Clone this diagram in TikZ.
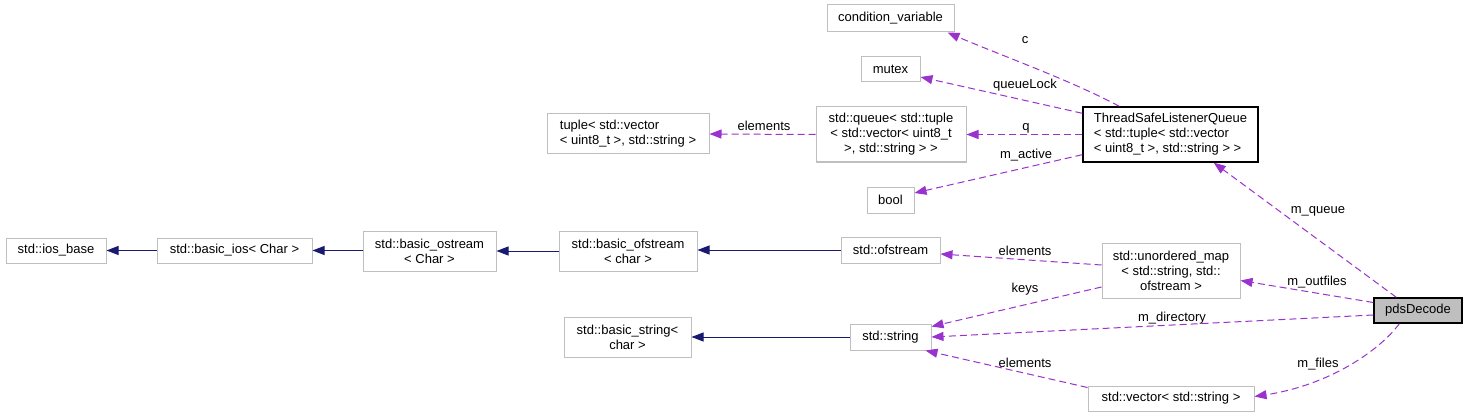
\documentclass[tikz,border=0pt]{standalone}
\usepackage{fontspec}
\setmainfont{Liberation Sans}
\usetikzlibrary{arrows.meta,calc}
\definecolor{edgepurple}{HTML}{9A32CD}
\definecolor{edgenavy}{HTML}{191970}
\definecolor{boxgray}{HTML}{BFBFBF}
\tikzset{
  cls/.style={draw=boxgray, line width=1pt, fill=white, inner sep=0pt, align=center,
    font=\fontsize{13}{15}\selectfont},
  clsmain/.style={cls, draw=black, line width=1.4pt},
  dep/.style={draw=edgepurple, line width=1pt, dash pattern=on 7pt off 4pt,
    -{Triangle[length=12pt,width=9pt]}},
  inh/.style={draw=edgenavy, line width=1pt, -{Triangle[length=12pt,width=9pt]}},
  lbl/.style={anchor=base, inner sep=0pt, font=\fontsize{13}{15}\selectfont}
}
\begin{document}
\begin{tikzpicture}[x=1pt,y=-1pt]
\useasboundingbox[fill=white] (0,0) rectangle (1467,417);
% nodes
\node[cls, minimum width=127pt, minimum height=27pt] (cv) at (890.5,18.5) {condition\_variable};
\node[cls, minimum width=59pt, minimum height=25pt] (mutex) at (890.5,69.5) {mutex};
\node[cls, minimum width=150pt, minimum height=55pt] (queue) at (891,134.5) {std::queue< std::tuple\\< std::vector< uint8\_t\\ >, std::string > >};
\node[cls, minimum width=47pt, minimum height=26pt] (bool) at (890.5,200) {bool};
\node[clsmain, minimum width=175pt, minimum height=55pt, align=left] (tslq) at (1170.5,134.5) {ThreadSafeListenerQueue\\< std::tuple< std::vector\\< uint8\_t >, std::string > >};
\node[cls, minimum width=162pt, minimum height=40pt, align=left] (tuple) at (628,134) {tuple< std::vector\\< uint8\_t >, std::string >};
\node[cls, minimum width=100pt, minimum height=25pt] (iosb) at (56,250.5) {std::ios\_base};
\node[cls, minimum width=155pt, minimum height=25pt] (bios) at (234.5,250.5) {std::basic\_ios< Char >};
\node[cls, minimum width=133pt, minimum height=40pt] (bostream) at (429.5,251) {std::basic\_ostream\\< Char >};
\node[cls, minimum width=138pt, minimum height=40pt] (bofs) at (628,251) {std::basic\_ofstream\\< char >};
\node[cls, minimum width=99pt, minimum height=26pt] (ofs) at (890.5,250) {std::ofstream};
\node[cls, minimum width=138pt, minimum height=55pt] (umap) at (1171,270.5) {std::unordered\_map\\< std::string, std::\\ofstream >};
\node[cls, draw=black, fill=boxgray, line width=1.4pt, minimum width=88pt, minimum height=25pt] (pds) at (1418,310.5) {pdsDecode};
\node[cls, minimum width=127pt, minimum height=40pt] (bstr) at (627.5,337) {std::basic\_string<\\char >};
\node[cls, minimum width=81pt, minimum height=26pt] (str) at (890.5,337) {std::string};
\node[cls, minimum width=166pt, minimum height=25pt] (vec) at (1171,398.5) {std::vector< std::string >};
% inheritance edges
\draw[inh] (bios.west) -- (iosb.east);
\draw[inh] (bostream.west |- bios.east) -- (bios.east);
\draw[inh] (bofs.west) -- (bostream.east);
\draw[inh] (ofs.west) -- (ofs.west -| bofs.east);
\draw[inh] (str.west) -- (bstr.east);
% usage edges
\draw[dep] ($(tslq.north west)+(37,0)$) .. controls (1070,80) and (1000,55) .. ($(cv.south east)+(-7,0)$);
\draw[dep] ($(tslq.north west)+(0,7)$) -- ($(mutex.east)+(0,7.5)$);
\draw[dep] (tslq.west) -- (queue.east);
\draw[dep] ($(tslq.south west)+(0,-8)$) -- ($(bool.east)+(0,-7)$);
\draw[dep] (queue.west) -- (tuple.east);
\draw[dep] ($(pds.north west)+(23,0)$) -- ($(tslq.south east)+(-45,0)$);
\draw[dep] ($(pds.west)+(0,-8)$) -- ($(umap.east)+(0,10)$);
\draw[dep] ($(pds.west)+(0,4.5)$) -- (str.east);
\draw[dep] ($(pds.south west)+(26,0)$) .. controls (1380,350) and (1330,385) .. ($(vec.east)+(0,-2)$);
\draw[dep] ($(umap.west)+(0,-5.5)$) -- ($(ofs.east)+(0,4)$);
\draw[dep] ($(umap.west)+(0,16.5)$) -- ($(str.north east)+(0,3)$);
\draw[dep] ($(vec.north west)+(0,2)$) -- ($(str.south east)+(-6,0)$);
% edge labels
\node[lbl] (lc) at (1025,44) {c};
\node[lbl] (lqlock) at (1025,89) {queueLock};
\node[lbl] (lq) at (1026,131) {q};
\node[lbl] (lactive) at (1026,158) {m\_active};
\node[lbl] (lel1) at (764,131) {elements};
\node[lbl] (lmq) at (1318,213.5) {m\_queue};
\node[lbl] (lel2) at (1025,255.5) {elements};
\node[lbl] (lout) at (1317,285) {m\_outfiles};
\node[lbl] (lkeys) at (1025,292) {keys};
\node[lbl] (ldir) at (1172,321) {m\_directory};
\node[lbl] (lel3) at (1025,367) {elements};
\node[lbl] (lfiles) at (1318,367) {m\_files};
\end{tikzpicture}
\end{document}
